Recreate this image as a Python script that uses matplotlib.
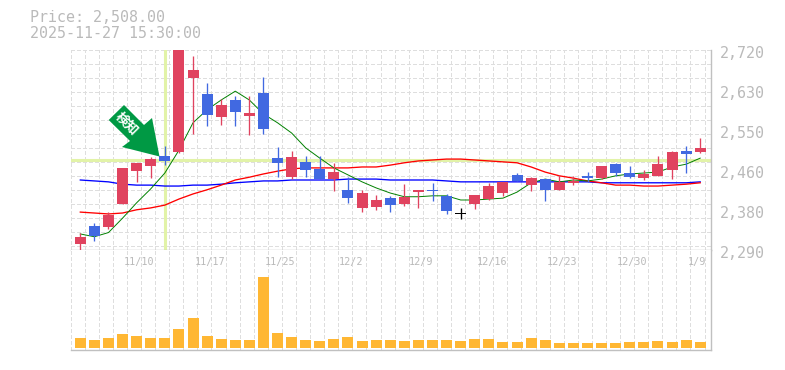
import matplotlib
matplotlib.use("Agg")
import matplotlib.pyplot as plt
from matplotlib.patches import Polygon
from matplotlib.transforms import blended_transform_factory as btf

W, H = 785, 370
body_top = [2324,2348,2372,2473,2484,2492,2499,2760,2684,2632,2608,2619,2591,2634,2494,2496,2486,2471,2464,2426,2419,2404,2408,2411,2426,2426,2413,2375,2415,2434,2443,2458,2451,2449,2443,2445,2456,2477,2481,2462,2460,2481,2507,2509,2516]
body_bot = [2309,2327,2346,2395,2466,2477,2488,2507,2666,2587,2582,2593,2585,2557,2484,2453,2469,2449,2449,2408,2387,2389,2393,2395,2421,2423,2380,2373,2395,2406,2419,2445,2436,2426,2426,2441,2451,2451,2462,2453,2451,2456,2469,2503,2507]
highs    = [2333,2355,2378,2473,2484,2496,2520,2760,2714,2656,2621,2628,2628,2668,2518,2509,2499,2499,2484,2453,2426,2415,2413,2438,2426,2441,2417,2387,2415,2441,2443,2462,2453,2449,2458,2456,2464,2477,2484,2477,2469,2499,2509,2520,2537]
lows     = [2297,2316,2342,2395,2443,2451,2479,2505,2546,2563,2565,2563,2544,2546,2453,2449,2453,2449,2423,2398,2378,2383,2378,2391,2387,2402,2374,2363,2385,2404,2413,2445,2423,2402,2426,2436,2443,2449,2456,2451,2447,2456,2449,2462,2505]
colors_k = ["r","b","r","r","r","r","b","r","r","b","r","b","r","b","b","r","b","b","r","b","r","r","b","r","r","b","b","k","r","r","r","b","r","b","r","r","b","r","b","b","r","r","r","b","r"]
ma_short = [2331,2325,2334,2365,2398,2428,2462,2511,2570,2598,2619,2638,2619,2589,2570,2548,2516,2494,2473,2458,2443,2430,2419,2411,2411,2413,2413,2404,2404,2406,2408,2421,2441,2449,2443,2447,2445,2449,2456,2460,2462,2464,2475,2481,2494]
ma_mid = [2378,2376,2374,2376,2383,2387,2393,2406,2417,2426,2436,2447,2453,2460,2466,2471,2473,2473,2473,2473,2475,2475,2479,2484,2488,2490,2492,2492,2490,2488,2486,2484,2475,2464,2456,2451,2445,2441,2436,2436,2434,2434,2436,2438,2441]
ma_long = [2447,2445,2443,2438,2436,2436,2434,2434,2436,2436,2438,2441,2443,2445,2445,2447,2447,2447,2447,2449,2449,2449,2447,2447,2447,2447,2445,2443,2443,2443,2443,2443,2443,2443,2443,2443,2443,2441,2441,2441,2441,2441,2441,2441,2443]
volume = [10,8,10,14,12,10,10,19,30,12,9,8,8,71,15,11,8,7,9,11,7,8,8,7,8,8,8,7,9,9,6,6,10,8,5,5,5,5,5,6,6,7,6,8,6]
date_idx = [4,9,14,19,24,29,34,39,44]
date_labels = ["11/10","11/17","11/25","12/2","12/9","12/16","12/23","12/30","1/9"]
price_labels = ["2,720","2,630","2,550","2,460","2,380","2,290"]
title_lines = ["Price: 2,508.00","2025-11-27 15:30:00"]
cross_idx = 6
cross_price = 2490

MONO = "DejaVu Sans Mono"
GRAY = "#bababa"
GRID = "#dedede"
CMAP = {"r": "#e0435f", "b": "#4169e1", "k": "#000000"}
n = len(volume)
xs = list(range(n))

fig = plt.figure(figsize=(W/100, H/100), dpi=100, facecolor="white")
L, R = 70.5, 710.5
def mk(top, bot):
    return fig.add_axes([L/W, 1-bot/H, (R-L)/W, (bot-top)/H])
ax = mk(50, 250)
av = mk(250, 350)
XL = (-0.695, 44.73)
YTOP, YBOT = 2726.5, 2296.5
DASH = (0, (3.2, 2.4))

for a in (ax, av):
    a.set_xlim(*XL)
    a.set_xticks([k - 0.69 for k in range(46)])
    a.tick_params(length=0, labelbottom=False, labelleft=False)
    a.grid(axis="x", color=GRID, lw=0.72, ls=DASH, antialiased=False)
    a.set_axisbelow(True)
    for s in ("top", "left"):
        a.spines[s].set_visible(False)
    for s in ("right", "bottom"):
        a.spines[s].set_color("#c0c0c0")
        a.spines[s].set_linewidth(1.0)

ax.set_ylim(YBOT, YTOP)
ax.set_yticks([YTOP - 30.1*k for k in range(15)])
ax.grid(axis="y", color=GRID, lw=0.72, ls=DASH, antialiased=False)
av.set_ylim(-2, 98)
av.set_yticks([])

# crosshair
ax.axhline(cross_price, color="#e2f3a8", lw=2.2, zorder=1)
ax.axvline(cross_idx, color="#e2f3a8", lw=2.2, zorder=1)

# moving averages
ax.plot(xs, ma_long, color="#0000ff", lw=0.95, zorder=2)
ax.plot(xs, ma_mid, color="#ff0000", lw=0.95, zorder=2)
ax.plot(xs, ma_short, color="#008000", lw=0.7, zorder=2)

# candles
cols = [CMAP[k] for k in colors_k]
ax.vlines(xs, lows, highs, colors=cols, lw=0.95, zorder=3)
ax.bar(xs, [t-b for t, b in zip(body_top, body_bot)], bottom=body_bot,
       width=0.78, color=cols, linewidth=0, zorder=4)

# volume
av.bar(xs, volume, width=0.78, color="#ffb733", linewidth=0, zorder=3)

# labels
tr = btf(ax.transAxes, ax.transData)
for k, lab in enumerate(price_labels):
    ax.text(1+9.5/640, 2720-86*k, lab, transform=tr, color=GRAY, family=MONO,
            fontsize=10.8, va="center", ha="left", clip_on=False)
tr2 = btf(av.transData, av.transAxes)
for i, lab in zip(date_idx, date_labels):
    x = i + 0.2 if i < 44 else 43.8
    av.text(x, 0.88, lab, transform=tr2, color=GRAY, family=MONO,
            fontsize=7.3, va="center", ha="center", clip_on=False)
for y, t in zip((18, 33), title_lines):
    fig.text(30/W, 1-y/H, t, color=GRAY, family=MONO, fontsize=10.8, va="center", ha="left")

# signal arrow, in figure pixels
arrow_px = [(124,105),(108.7,120),(130,141),(122,147),(159.5,156.5),(152,118),(144,125)]
fig.add_artist(Polygon([(x/W, 1-y/H) for x, y in arrow_px], closed=True,
                       transform=fig.transFigure, facecolor="#009944", edgecolor="none", zorder=6))
fig.text(127/W, 1-124/H, "検知", color="white", rotation=-45, rotation_mode="anchor",
         family=["Noto Sans CJK JP", "DejaVu Sans"], fontweight="bold", fontsize=9.5,
         va="center", ha="center", zorder=7)

fig.savefig("out.png", dpi=100, facecolor="white")
